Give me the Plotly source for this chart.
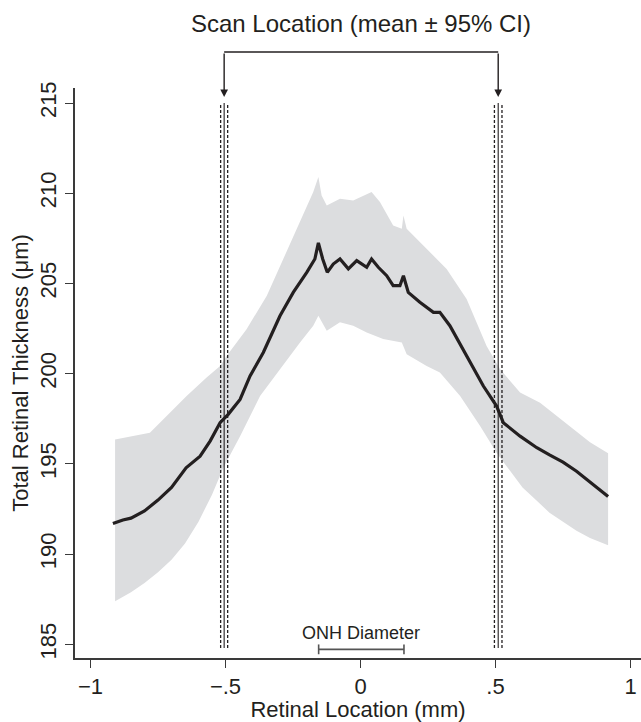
import plotly.graph_objects as go

# ---- data ----
mean_x = [-0.917, -0.88, -0.85, -0.8, -0.75, -0.7, -0.646, -0.594, -0.557, -0.520, -0.490, -0.446,
          -0.409, -0.360, -0.298, -0.249, -0.199, -0.169, -0.156, -0.140, -0.123, -0.101, -0.076,
          -0.045, -0.014, 0.023, 0.041, 0.066, 0.097, 0.121, 0.146, 0.159, 0.177, 0.220, 0.270,
          0.294, 0.331, 0.393, 0.455, 0.504, 0.529, 0.591, 0.653, 0.70, 0.75, 0.80, 0.85, 0.917]
mean_y = [191.7, 191.9, 192.0, 192.4, 193.0, 193.7, 194.79, 195.43, 196.27, 197.29, 197.75, 198.58,
          199.88, 201.18, 203.21, 204.51, 205.62, 206.36, 207.25, 206.36, 205.62, 206.08, 206.36,
          205.81, 206.27, 205.90, 206.36, 205.90, 205.43, 204.88, 204.88, 205.43, 204.51, 203.96, 203.40,
          203.40, 202.66, 200.99, 199.32, 198.21, 197.29, 196.54, 195.90, 195.5, 195.1, 194.6, 194.0, 193.2]

upper_x = [-0.909, -0.841, -0.780, -0.718, -0.644, -0.570, -0.520, -0.496, -0.422, -0.347, -0.286,
           -0.224, -0.175, -0.156, -0.144, -0.125, -0.076, -0.027, 0.041, 0.072, 0.121, 0.153, 0.159,
           0.171, 0.245, 0.319, 0.393, 0.467, 0.517, 0.591, 0.665, 0.75, 0.85, 0.917]
upper_y = [196.36, 196.54, 196.73, 197.66, 198.77, 199.79, 200.43, 200.99, 202.47, 204.32, 206.36,
           208.40, 210.07, 210.90, 209.88, 209.32, 209.69, 209.60, 210.07, 209.51, 208.21, 208.03, 208.77,
           208.03, 206.92, 205.81, 204.14, 201.54, 200.25, 198.96, 198.40, 197.4, 196.2, 195.6]

lower_x = [-0.909, -0.85, -0.8, -0.75, -0.7, -0.65, -0.6, -0.55, -0.508, -0.446, -0.372, -0.298, -0.224,
           -0.175, -0.156, -0.125, -0.076, -0.027, 0.023, 0.084, 0.153, 0.171, 0.245, 0.294, 0.369, 0.443,
           0.504, 0.541, 0.6, 0.65, 0.7, 0.75, 0.8, 0.85, 0.917]
lower_y = [187.4, 187.9, 188.4, 189.0, 189.7, 190.6, 191.8, 193.3, 194.79, 196.54, 198.77, 200.25, 201.73,
           202.66, 203.21, 202.38, 202.85, 202.66, 202.29, 201.92, 201.73, 201.08, 200.43, 200.07, 198.77,
           197.10, 195.62, 194.88, 193.7, 193.0, 192.3, 191.8, 191.3, 190.9, 190.5]

scan_mean = [-0.505, 0.510]
scan_lo = [-0.518, 0.496]
scan_hi = [-0.492, 0.524]
scan_ylim = [184.8, 215.0]

onh_x = [-0.155, 0.161]
onh_y = 184.73

x_tickvals = [-1, -0.5, 0, 0.5, 1]
x_ticktext = ["\u22121", "\u2212.5", "0", ".5", "1"]
y_tickvals = [185, 190, 195, 200, 205, 210, 215]
y_ticktext = ["185", "190", "195", "200", "205", "210", "215"]

FONT = "Liberation Sans, Arial, sans-serif"
INK = "#231f20"
AXC = "#3a3a3a"

fig = go.Figure()

# CI band
fig.add_trace(go.Scatter(
    x=upper_x + lower_x[::-1], y=upper_y + lower_y[::-1],
    fill="toself", fillcolor="#dcdddf", line=dict(width=0), mode="lines",
    hoverinfo="skip", showlegend=False))

# mean line
fig.add_trace(go.Scatter(x=mean_x, y=mean_y, mode="lines",
                         line=dict(color=INK, width=3.2), showlegend=False))

# scan location lines
for m, lo, hi in zip(scan_mean, scan_lo, scan_hi):
    fig.add_trace(go.Scatter(x=[m, m], y=scan_ylim, mode="lines",
                             line=dict(color=INK, width=1.1), showlegend=False))
    for v in (lo, hi):
        fig.add_trace(go.Scatter(x=[v, v], y=scan_ylim, mode="lines",
                                 line=dict(color=INK, width=1.3, dash="3px,2px"), showlegend=False))

# ONH diameter bar
fig.add_trace(go.Scatter(x=onh_x, y=[onh_y, onh_y], mode="lines+markers",
                         line=dict(color="#555555", width=1.6),
                         marker=dict(symbol="line-ns", size=7, line=dict(color="#555555", width=1.6)),
                         showlegend=False))

annotations = [
    dict(x=sum(onh_x) / 2, y=185.64, xref="x", yref="y", text="ONH Diameter", showarrow=False,
         font=dict(family=FONT, size=18, color=INK)),
    dict(x=sum(scan_mean) / 2, y=1.1123, xref="x", yref="paper", yanchor="middle",
         text="Scan Location (mean \u00b1 95% CI)",
         showarrow=False, font=dict(family=FONT, size=24, color=INK)),
]
for m in scan_mean:
    annotations.append(dict(x=m, y=215.33, xref="x", yref="y", text="", showarrow=True,
                            ax=0, ay=-45, arrowhead=2, arrowsize=1.1, arrowwidth=1.4, arrowcolor=INK))

shapes = [dict(type="line", xref="x", yref="paper", x0=scan_mean[0], x1=scan_mean[1],
               y0=1.0632, y1=1.0632, line=dict(color=INK, width=1.4))]

fig.update_layout(
    width=641, height=722,
    margin=dict(l=75, r=0, t=88, b=64),
    paper_bgcolor="white", plot_bgcolor="white",
    font=dict(family=FONT, color=INK),
    annotations=annotations, shapes=shapes,
    xaxis=dict(range=[-1.0574, 1.0389], showgrid=False, zeroline=False,
               showline=True, linecolor=AXC, linewidth=1.5,
               ticks="outside", ticklen=8, tickwidth=1.3, tickcolor=AXC,
               tickvals=x_tickvals, ticktext=x_ticktext,
               tickfont=dict(family=FONT, size=22, color=INK),
               title=dict(text="Retinal Location (mm)", font=dict(family=FONT, size=22, color=INK), standoff=0)),
    yaxis=dict(range=[184.25, 215.833], showgrid=False, zeroline=False,
               showline=True, linecolor=AXC, linewidth=1.5,
               ticks="outside", ticklen=8, tickwidth=1.3, tickcolor=AXC,
               tickvals=y_tickvals, ticktext=y_ticktext, tickangle=-90,
               tickfont=dict(family=FONT, size=22, color=INK),
               title=dict(text="Total Retinal Thickness (\u03bcm)", font=dict(family=FONT, size=22, color=INK), standoff=2)),
)

fig.write_html("out.html")
